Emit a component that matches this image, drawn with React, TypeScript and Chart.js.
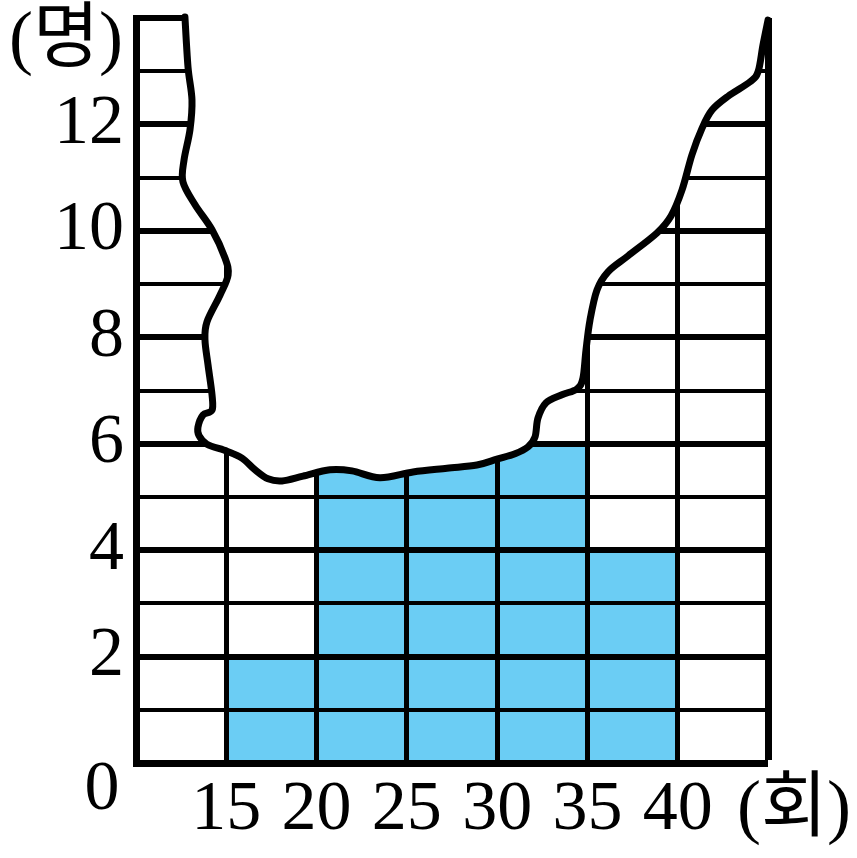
import { useEffect, useRef } from 'react';
import { Chart, registerables } from 'chart.js';

Chart.register(...registerables);

// ---- data ----
const binStarts = [15, 20, 25, 30, 35];
const binWidth = 5;
const counts = [2, 7, 8, 6, 4];
const xTickValues = [15, 20, 25, 30, 35, 40];
const yTickValues = [2, 4, 6, 8, 10, 12];
const xMin = 10;
const xMax = 45;
const yMin = 0;
const yMax = 14;
const yUnit = '(명)';
const xUnit = '(회)';
const originLabel = '0';

// torn-paper edge, in data coordinates (회, 명)
const tearX = [12.71, 12.88, 13.1, 12.99, 12.66, 12.6, 13.27, 14.21, 14.93, 15.1, 14.65, 13.93, 13.82, 13.99, 14.21, 14.21, 13.71, 13.43, 13.49, 13.93, 15.04, 15.87, 16.59, 17.31, 18.09, 19.25, 20.74, 21.96, 23.51, 25.34, 27.22, 28.88, 29.99, 30.99, 31.71, 32.1, 32.26, 32.71, 33.59, 34.42, 34.75, 34.92, 35.14, 35.53, 36.14, 37.25, 38.85, 39.63, 40.24, 40.79, 41.35, 41.9, 42.79, 44.0, 44.45, 44.72, 45.0];
const tearY = [14.02, 13.08, 12.46, 11.9, 11.33, 10.92, 10.49, 10.02, 9.49, 9.17, 8.79, 8.29, 7.95, 7.48, 6.92, 6.63, 6.54, 6.31, 6.15, 5.99, 5.86, 5.73, 5.51, 5.34, 5.3, 5.39, 5.51, 5.49, 5.36, 5.47, 5.54, 5.6, 5.71, 5.81, 5.94, 6.13, 6.48, 6.77, 6.92, 7.03, 7.23, 7.76, 8.32, 8.89, 9.23, 9.53, 9.96, 10.28, 10.77, 11.43, 11.93, 12.27, 12.53, 12.8, 12.99, 13.49, 13.96];

const SERIF = '"Liberation Serif", "Noto Sans CJK KR", serif';

function trace(ctx: CanvasRenderingContext2D, p: { x: number; y: number }[]) {
  ctx.moveTo(p[0].x, p[0].y);
  for (let i = 0; i < p.length - 1; i++) {
    const p0 = p[i - 1] || p[i];
    const p1 = p[i];
    const p2 = p[i + 1];
    const p3 = p[i + 2] || p2;
    const t = 1 / 6;
    ctx.bezierCurveTo(
      p1.x + (p2.x - p0.x) * t,
      p1.y + (p2.y - p0.y) * t,
      p2.x - (p3.x - p1.x) * t,
      p2.y - (p3.y - p1.y) * t,
      p2.x,
      p2.y
    );
  }
}

const tearPlugin = {
  id: 'tearEdge',
  afterDraw(chart: any) {
    const { ctx, chartArea } = chart;
    const xs = chart.scales.x;
    const ys = chart.scales.y;
    const pts = tearX.map((v, i) => ({ x: xs.getPixelForValue(v), y: ys.getPixelForValue(tearY[i]) }));
    const last = pts[pts.length - 1];
    ctx.save();
    ctx.beginPath();
    trace(ctx, pts);
    ctx.lineTo(last.x, chartArea.top - 12);
    ctx.lineTo(pts[0].x, chartArea.top - 12);
    ctx.closePath();
    ctx.fillStyle = '#ffffff';
    ctx.fill();
    ctx.beginPath();
    trace(ctx, pts);
    ctx.lineWidth = 7;
    ctx.lineCap = 'round';
    ctx.lineJoin = 'round';
    ctx.strokeStyle = '#000000';
    ctx.stroke();

    ctx.fillStyle = '#000000';
    ctx.textAlign = 'center';
    ctx.textBaseline = 'middle';
    ctx.font = `72px ${SERIF}`;
    ctx.fillText(yUnit, chartArea.left - 70, chartArea.top + 24);
    ctx.fillText(xUnit, chartArea.right + 26, chartArea.bottom + 48);
    ctx.font = `70px ${SERIF}`;
    ctx.fillText(originLabel, chartArea.left - 34, chartArea.bottom + 28);
    ctx.restore();
  },
};

export default function App() {
  const ref = useRef<HTMLCanvasElement>(null);
  useEffect(() => {
    const chart = new Chart(ref.current as HTMLCanvasElement, {
      type: 'bar',
      data: {
        datasets: [
          {
            data: binStarts.map((s, i) => ({ x: s + binWidth / 2, y: counts[i] })),
            backgroundColor: '#6BCDF4',
            borderWidth: 0,
            barPercentage: 1,
            categoryPercentage: 1,
          },
        ],
      },
      options: {
        responsive: false,
        animation: false,
        layout: { padding: { top: 18, right: 89, left: 0, bottom: 0 } },
        plugins: { legend: { display: false }, tooltip: { enabled: false } },
        scales: {
          x: {
            type: 'linear',
            min: xMin,
            max: xMax,
            offset: false,
            afterFit: (s: any) => {
              s.height = 95;
              s.paddingLeft = 0;
              s.paddingRight = 0;
            },
            afterBuildTicks: (s: any) => {
              s.ticks = [xMin, ...xTickValues, xMax].map((v) => ({ value: v }));
            },
            ticks: {
              autoSkip: false,
              maxRotation: 0,
              minRotation: 0,
              padding: 6,
              color: '#000',
              font: { family: SERIF, size: 70 },
              callback: (v: any) => (xTickValues.includes(Number(v)) ? String(v) : ''),
            },
            grid: {
              offset: false,
              z: 1,
              drawTicks: false,
              color: '#000',
              lineWidth: (c: any) => (c.tick && c.tick.value === xMin ? 0 : c.tick && c.tick.value === xMax ? 7 : 5),
            },
            border: { z: 1, width: 7, color: '#000' },
          },
          y: {
            min: yMin,
            max: yMax,
            afterFit: (s: any) => {
              s.width = 136;
              s.paddingTop = 0;
              s.paddingBottom = 0;
            },
            ticks: {
              stepSize: 1,
              autoSkip: false,
              padding: 12,
              color: '#000',
              font: { family: SERIF, size: 70 },
              callback: (v: any) => (yTickValues.includes(Number(v)) ? String(v) : ''),
            },
            grid: {
              z: 1,
              drawTicks: false,
              color: '#000',
              lineWidth: (c: any) => (c.tick && c.tick.value === 0 ? 0 : c.tick && c.tick.value % 2 === 0 ? 6 : 4),
            },
            border: { z: 1, width: 7, color: '#000' },
          },
        },
      },
      plugins: [tearPlugin],
    } as any);
    return () => chart.destroy();
  }, []);
  return (
    <div style={{ position: 'absolute', left: 0, top: 0, width: 857, height: 858 }}>
      <canvas ref={ref} width={857} height={858} style={{ display: 'block' }} />
    </div>
  );
}
